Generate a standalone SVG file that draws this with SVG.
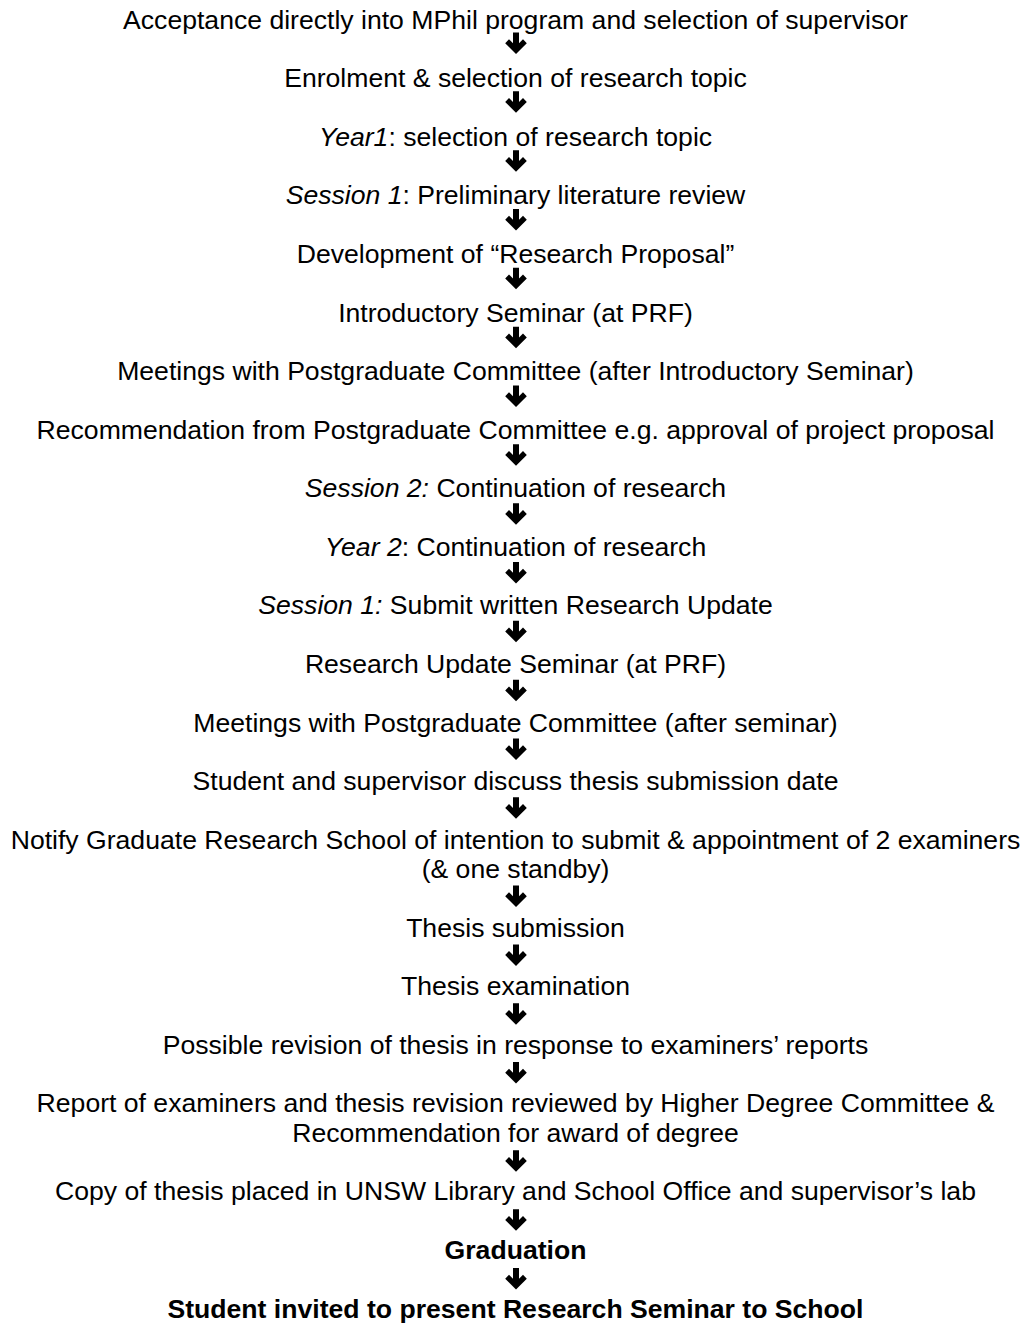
<svg xmlns="http://www.w3.org/2000/svg" xmlns:xlink="http://www.w3.org/1999/xlink" width="1027" height="1325" viewBox="0 0 1027 1325">
<style>
text{font-family:"Liberation Sans",Arial,sans-serif;font-size:26.6px;fill:#000;text-anchor:middle}
.i{font-style:italic}
.b{font-weight:bold}
</style>
<defs>
<path id="arr" d="M-3,-11 H3 V-0.3 L7,-4.3 L10.8,-0.3 L0,10.5 L-10.8,-0.3 L-7,-4.3 L-3,-0.3 Z" fill="#000"/>
</defs>
<rect width="1027" height="1325" fill="#fff"/>
<g id="n1"><text x="515.5" y="28.5">Acceptance directly into MPhil program and selection of supervisor</text></g>
<g id="n2"><text x="515.5" y="87.1">Enrolment &amp; selection of research topic</text></g>
<g id="n3"><text x="515.5" y="145.7"><tspan class="i">Year1</tspan>: selection of research topic</text></g>
<g id="n4"><text x="515.5" y="204.3"><tspan class="i">Session 1</tspan>: Preliminary literature review</text></g>
<g id="n5"><text x="515.5" y="262.9">Development of “Research Proposal”</text></g>
<g id="n6"><text x="515.5" y="321.5">Introductory Seminar (at PRF)</text></g>
<g id="n7"><text x="515.5" y="380">Meetings with Postgraduate Committee (after Introductory Seminar)</text></g>
<g id="n8"><text x="515.5" y="438.6">Recommendation from Postgraduate Committee e.g. approval of project proposal</text></g>
<g id="n9"><text x="515.5" y="497.2"><tspan class="i">Session 2:</tspan> Continuation of research</text></g>
<g id="n10"><text x="515.5" y="555.8"><tspan class="i">Year 2</tspan>: Continuation of research</text></g>
<g id="n11"><text x="515.5" y="614.4"><tspan class="i">Session 1:</tspan> Submit written Research Update</text></g>
<g id="n12"><text x="515.5" y="673">Research Update Seminar (at PRF)</text></g>
<g id="n13"><text x="515.5" y="731.6">Meetings with Postgraduate Committee (after seminar)</text></g>
<g id="n14"><text x="515.5" y="790.2">Student and supervisor discuss thesis submission date</text></g>
<g id="n15"><text x="515.5" y="848.8">Notify Graduate Research School of intention to submit &amp; appointment of 2 examiners</text><text x="515.5" y="878.1">(&amp; one standby)</text></g>
<g id="n16"><text x="515.5" y="936.6">Thesis submission</text></g>
<g id="n17"><text x="515.5" y="995.2">Thesis examination</text></g>
<g id="n18"><text x="515.5" y="1053.8">Possible revision of thesis in response to examiners’ reports</text></g>
<g id="n19"><text x="515.5" y="1112.4">Report of examiners and thesis revision reviewed by Higher Degree Committee &amp;</text><text x="515.5" y="1141.7">Recommendation for award of degree</text></g>
<g id="n20"><text x="515.5" y="1200.3">Copy of thesis placed in UNSW Library and School Office and supervisor’s lab</text></g>
<g id="n21"><text class="b" x="515.5" y="1258.9">Graduation</text></g>
<g id="n22"><text class="b" x="515.5" y="1317.5">Student invited to present Research Seminar to School</text></g>
<g id="connectors">
<use xlink:href="#arr" x="516" y="43.5"/>
<use xlink:href="#arr" x="516" y="102.3"/>
<use xlink:href="#arr" x="516" y="161.2"/>
<use xlink:href="#arr" x="516" y="220"/>
<use xlink:href="#arr" x="516" y="278.8"/>
<use xlink:href="#arr" x="516" y="337.7"/>
<use xlink:href="#arr" x="516" y="396.5"/>
<use xlink:href="#arr" x="516" y="455.3"/>
<use xlink:href="#arr" x="516" y="514.2"/>
<use xlink:href="#arr" x="516" y="573"/>
<use xlink:href="#arr" x="516" y="631.8"/>
<use xlink:href="#arr" x="516" y="690.7"/>
<use xlink:href="#arr" x="516" y="749.5"/>
<use xlink:href="#arr" x="516" y="808.3"/>
<use xlink:href="#arr" x="516" y="896.6"/>
<use xlink:href="#arr" x="516" y="955.4"/>
<use xlink:href="#arr" x="516" y="1014.2"/>
<use xlink:href="#arr" x="516" y="1073.1"/>
<use xlink:href="#arr" x="516" y="1161.3"/>
<use xlink:href="#arr" x="516" y="1220.2"/>
<use xlink:href="#arr" x="516" y="1279"/>
</g>
</svg>
